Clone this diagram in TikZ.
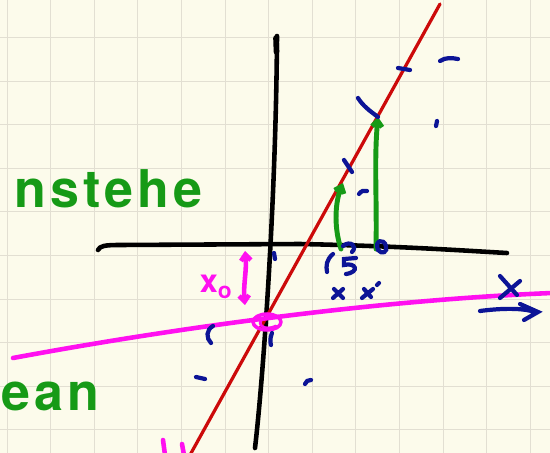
\documentclass[tikz,border=0pt]{standalone}
\usepackage{fontspec}
\usepackage{xcolor}
\usepackage{tikz}
\usetikzlibrary{arrows.meta}

\newfontfamily\handfont[LetterSpace=8]{TeX Gyre Heros}

\definecolor{paper}{HTML}{FCFBEB}
\definecolor{gridc}{HTML}{E2DFD2}
\definecolor{inkgreen}{HTML}{169A16}
\definecolor{inkblue}{HTML}{0C1496}
\definecolor{inkred}{HTML}{CC0A0A}
\definecolor{inkpink}{HTML}{FF10F0}

\begin{document}
\begin{tikzpicture}[
  x=0.05cm, y=-0.05cm,
  pen/.style={line width=6.5pt, line cap=round, line join=round},
  axis/.style={pen, black},
  redpen/.style={line width=4.6pt, line cap=round, inkred},
  pinkpen/.style={pen, inkpink},
  greenpen/.style={line width=7pt, line cap=round, inkgreen},
  bluepen/.style={line width=6pt, line cap=round, inkblue},
  hand/.style={font=\fontsize{74}{74}\selectfont\handfont\bfseries, inner sep=0pt},
  barb/.style={-{Straight Barb[length=3mm, width=5mm]}}]
  % paper and grid
  \useasboundingbox (0,0) rectangle (550,453);
  \clip (0,0) rectangle (550,453);
  \fill[paper] (0,0) rectangle (550,453);
  \foreach \k in {0,...,12}
    \draw[gridc, line width=1.4pt] ({7+43.6*\k},0) -- ({7+43.6*\k},453);
  \foreach \k in {0,...,9}
    \draw[gridc, line width=1.4pt] (0,{37.5+43.6*\k}) -- (550,{37.5+43.6*\k});

  % axes
  \draw[axis] (98,250) .. controls (100,246) and (104,245) .. (120,245)
    -- (300,244) .. controls (400,246) and (470,251) .. (507,253);
  \draw[axis] (277,36) .. controls (276,200) and (263,380) .. (255,448);
  \draw[axis, line width=8pt] (276,38) -- (276.5,52);

  % lines
  \draw[redpen] (190,455) -- (440,4);
  \draw[pinkpen] (13,358) .. controls (180,327) and (380,300) .. (552,293);

  % intercept mark
  \draw[pinkpen, line width=5pt] (267,322) ellipse (14 and 8);
  \draw[pinkpen, line width=4pt] (262,318) .. controls (256,326) and (266,331) .. (276,326);
  \draw[pinkpen, {Straight Barb[length=3mm, width=5mm]}-{Straight Barb[length=3mm, width=5mm]}]
    (245,251) .. controls (247,270) and (243,285) .. (245,305);
  \node[hand, font=\fontsize{46}{46}\selectfont\handfont\bfseries, text=inkpink] (x0) at (216,287) {x\textsubscript{o}};
  \draw[pinkpen] (163,440) -- (165,455);
  \draw[pinkpen] (182,444) -- (184,455);

  % differences up to the red line
  \draw[greenpen, barb] (341,249) .. controls (333,225) and (336,200) .. (343,183);
  \draw[greenpen, barb] (376,249) .. controls (377,200) and (374,160) .. (378,117);

  % handwriting
  \node[hand, text=inkgreen, anchor=base west] (top) at (14,207) {nstehe};
  \node[hand, text=inkgreen, anchor=base west] (bot) at (1,410) {ean};

  % blue marks
  \draw[bluepen] (343,246) .. controls (350,240) and (358,246) .. (352,252);
  \draw[bluepen] (386,246) .. controls (384,238) and (374,240) .. (378,250) .. controls (382,255) and (388,252) .. (386,246);
  \draw[bluepen] (356,258) -- (344,259) -- (344,265) .. controls (356,262) and (360,272) .. (346,274);
  \draw[bluepen] (333,254) .. controls (326,260) and (326,266) .. (327,272);
  \draw[bluepen] (334,289) -- (343,298) (343,289) -- (333,298);
  \draw[bluepen] (364,289) -- (371,297) (373,289) -- (362,298) (377,285) -- (379,283);
  \draw[bluepen] (500,276) -- (517,295) (520,281) -- (500,298);
  \draw[bluepen] (480,311) .. controls (495,309) and (520,307) .. (535,312)
    (520,304) -- (538,312) -- (524,320);
  \draw[bluepen] (358,98) .. controls (363,106) and (370,111) .. (378,117);
  \draw[bluepen] (398,68) -- (410,70);
  \draw[bluepen] (440,61) .. controls (446,57) and (452,58) .. (458,59);
  \draw[bluepen] (437,121) -- (436,126);
  \draw[bluepen] (344,160) -- (352,172);
  \draw[bluepen] (359,194) .. controls (361,191) and (364,190) .. (367,191);
  \draw[bluepen] (274,253) -- (275,259);
  \draw[bluepen] (213,326) .. controls (206,330) and (206,338) .. (211,343);
  \draw[bluepen] (196,377) -- (205,379);
  \draw[bluepen] (305,384) .. controls (306,381) and (308,380) .. (311,380);
  \draw[bluepen] (272,333) .. controls (270,338) and (270,342) .. (271,345);
\end{tikzpicture}
\end{document}
